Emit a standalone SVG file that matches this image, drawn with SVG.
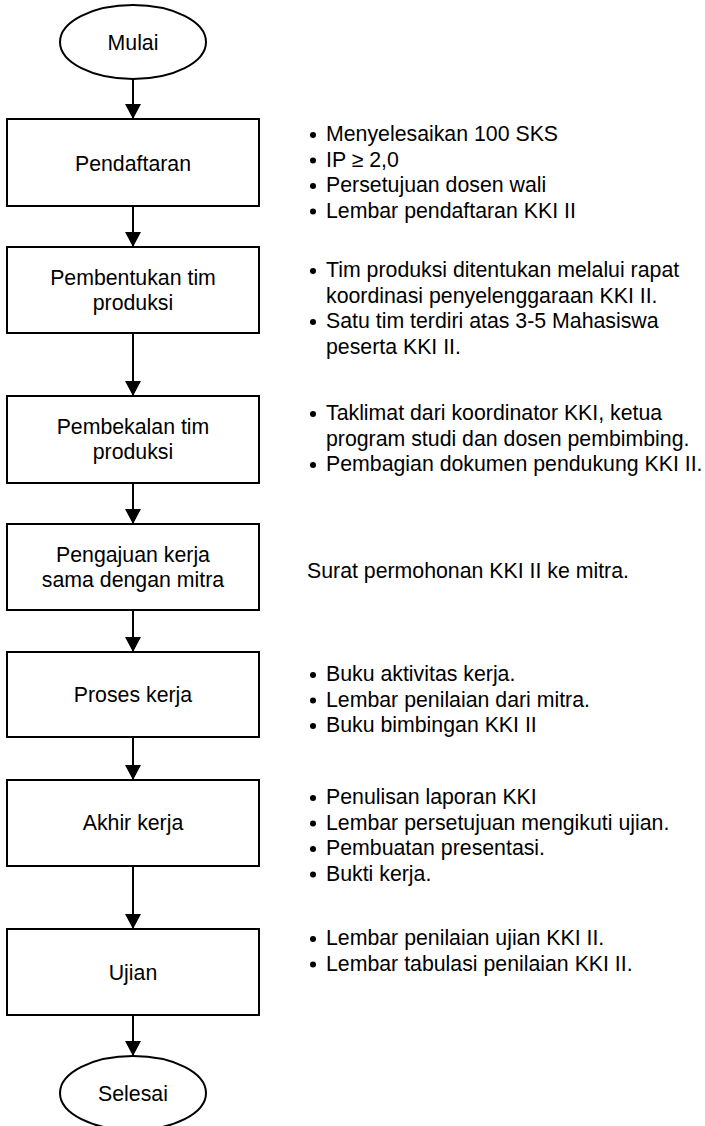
<svg xmlns="http://www.w3.org/2000/svg" width="705" height="1126" viewBox="0 0 705 1126">
<style>
.n{fill:#fff;stroke:#000;stroke-width:2}
.t{font-family:"Liberation Sans",Arial,sans-serif;font-size:21.3px;fill:#000}
.c{text-anchor:middle}
.e{stroke:#000;stroke-width:2;fill:none}
.b{fill:#000}
</style>
<defs>
<marker id="ah" markerUnits="userSpaceOnUse" markerWidth="16" markerHeight="16" refX="15" refY="8" orient="auto" viewBox="0 0 16 16">
<path d="M0,0 L15,8 L0,16 Z" fill="#000"/>
</marker>
</defs>
<rect width="705" height="1126" fill="#fff"/>
<g id="connectors">
<line class="e" x1="133" y1="79" x2="133" y2="119" marker-end="url(#ah)"/>
<line class="e" x1="133" y1="206" x2="133" y2="247" marker-end="url(#ah)"/>
<line class="e" x1="133" y1="333" x2="133" y2="396" marker-end="url(#ah)"/>
<line class="e" x1="133" y1="483" x2="133" y2="524" marker-end="url(#ah)"/>
<line class="e" x1="133" y1="610" x2="133" y2="652" marker-end="url(#ah)"/>
<line class="e" x1="133" y1="737" x2="133" y2="780" marker-end="url(#ah)"/>
<line class="e" x1="133" y1="866" x2="133" y2="929" marker-end="url(#ah)"/>
<line class="e" x1="133" y1="1015" x2="133" y2="1056" marker-end="url(#ah)"/>
</g>
<g id="mulai">
<ellipse class="n" cx="133" cy="42" rx="73" ry="37"/>
<text class="t c" x="133" y="50">Mulai</text>
</g>
<g id="pendaftaran">
<rect class="n" x="7" y="119" width="252" height="87"/>
<text class="t c" x="133" y="171">Pendaftaran</text>
</g>
<g id="pembentukan">
<rect class="n" x="7" y="247" width="252" height="86"/>
<text class="t c" x="133" y="285">Pembentukan tim</text>
<text class="t c" x="133" y="310">produksi</text>
</g>
<g id="pembekalan">
<rect class="n" x="7" y="396" width="252" height="87"/>
<text class="t c" x="133" y="434">Pembekalan tim</text>
<text class="t c" x="133" y="459">produksi</text>
</g>
<g id="pengajuan">
<rect class="n" x="7" y="524" width="252" height="86"/>
<text class="t c" x="133" y="562">Pengajuan kerja</text>
<text class="t c" x="133" y="587">sama dengan mitra</text>
</g>
<g id="proses">
<rect class="n" x="7" y="652" width="252" height="85"/>
<text class="t c" x="133" y="702">Proses kerja</text>
</g>
<g id="akhir">
<rect class="n" x="7" y="780" width="252" height="86"/>
<text class="t c" x="133" y="830">Akhir kerja</text>
</g>
<g id="ujian">
<rect class="n" x="7" y="929" width="252" height="86"/>
<text class="t c" x="133" y="980">Ujian</text>
</g>
<g id="selesai">
<ellipse class="n" cx="133" cy="1093" rx="73" ry="37"/>
<text class="t c" x="133" y="1101">Selesai</text>
</g>
<g id="notes-pendaftaran">
<circle class="b" cx="313" cy="135" r="3"/><text class="t" x="326" y="141">Menyelesaikan 100 SKS</text>
<circle class="b" cx="313" cy="160.5" r="3"/><text class="t" x="326" y="166.5">IP ≥ 2,0</text>
<circle class="b" cx="313" cy="186" r="3"/><text class="t" x="326" y="192">Persetujuan dosen wali</text>
<circle class="b" cx="313" cy="211.5" r="3"/><text class="t" x="326" y="217.5">Lembar pendaftaran KKI II</text>
</g>
<g id="notes-pembentukan">
<circle class="b" cx="313" cy="271" r="3"/><text class="t" x="326" y="277">Tim produksi ditentukan melalui rapat</text>
<text class="t" x="326" y="302.5">koordinasi penyelenggaraan KKI II.</text>
<circle class="b" cx="313" cy="322" r="3"/><text class="t" x="326" y="328">Satu tim terdiri atas 3-5 Mahasiswa</text>
<text class="t" x="326" y="353.5">peserta KKI II.</text>
</g>
<g id="notes-pembekalan">
<circle class="b" cx="313" cy="414" r="3"/><text class="t" x="326" y="420">Taklimat dari koordinator KKI, ketua</text>
<text class="t" x="326" y="445.5">program studi dan dosen pembimbing.</text>
<circle class="b" cx="313" cy="465" r="3"/><text class="t" x="326" y="471">Pembagian dokumen pendukung KKI II.</text>
</g>
<g id="notes-pengajuan">
<text class="t" x="307" y="578">Surat permohonan KKI II ke mitra.</text>
</g>
<g id="notes-proses">
<circle class="b" cx="313" cy="675" r="3"/><text class="t" x="326" y="681">Buku aktivitas kerja.</text>
<circle class="b" cx="313" cy="700.5" r="3"/><text class="t" x="326" y="706.5">Lembar penilaian dari mitra.</text>
<circle class="b" cx="313" cy="726" r="3"/><text class="t" x="326" y="732">Buku bimbingan KKI II</text>
</g>
<g id="notes-akhir">
<circle class="b" cx="313" cy="798" r="3"/><text class="t" x="326" y="804">Penulisan laporan KKI</text>
<circle class="b" cx="313" cy="823.5" r="3"/><text class="t" x="326" y="829.5">Lembar persetujuan mengikuti ujian.</text>
<circle class="b" cx="313" cy="849" r="3"/><text class="t" x="326" y="855">Pembuatan presentasi.</text>
<circle class="b" cx="313" cy="874.5" r="3"/><text class="t" x="326" y="880.5">Bukti kerja.</text>
</g>
<g id="notes-ujian">
<circle class="b" cx="313" cy="939" r="3"/><text class="t" x="326" y="945">Lembar penilaian ujian KKI II.</text>
<circle class="b" cx="313" cy="964.5" r="3"/><text class="t" x="326" y="970.5">Lembar tabulasi penilaian KKI II.</text>
</g>
</svg>
